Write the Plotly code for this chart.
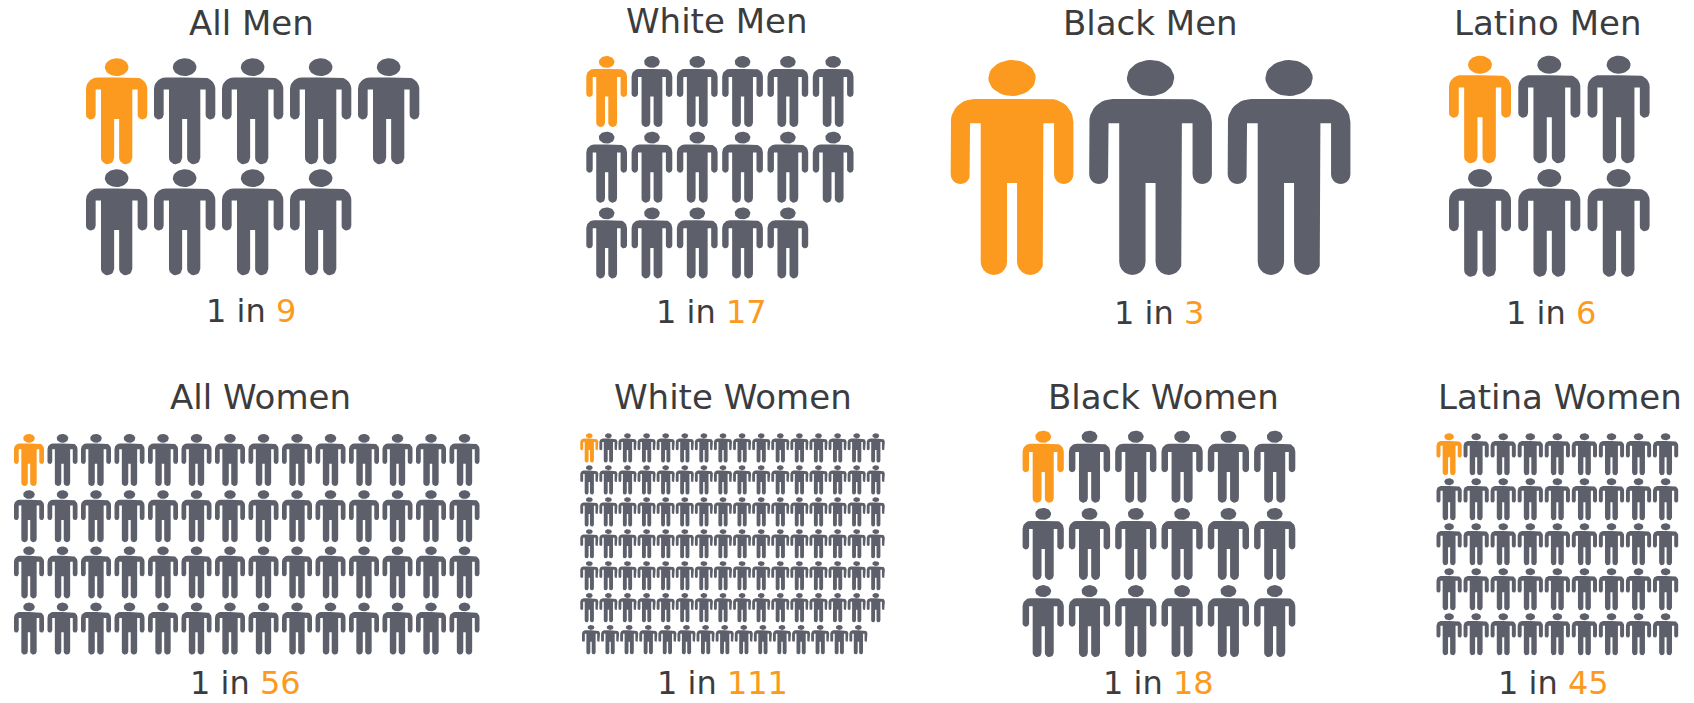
import math
import plotly.graph_objects as go

# ---- data -------------------------------------------------------------
GROUPS = ["All Men", "White Men", "Black Men", "Latino Men",
          "All Women", "White Women", "Black Women", "Latina Women"]
ONE_IN = [9, 17, 3, 6, 56, 111, 18, 45]
COLUMNS = [5, 6, 3, 3, 14, 16, 6, 9]

# ---- layout of each pictogram (px on a 1694 x 703 canvas) ---------------
LEFT = [86, 586.3, 950.7, 1449, 14, 580.3, 1022.6, 1436.5]
TOP = [58.3, 56, 60, 55.7, 434, 433.3, 430.7, 433.3]
ICON_W = [61.3, 40.7, 122.7, 62, 30, 18, 41.2, 25.2]
ICON_H = [106, 71, 215, 107.6, 52, 29.3, 72, 42]
STEP_X = [68, 45.3, 138.5, 69.3, 33.5, 19.1, 46.3, 27.06]
STEP_Y = [111, 75.7, 1, 113.4, 56.2, 31.95, 77.2, 45]
LAST_ROW_DX = [0, 0, 0, 0, 0, 1.7, 0, 0]
TITLE_XY = [(251.7, 23), (716, 20.7), (1150.7, 23), (1547.7, 23),
            (260, 397), (733, 397), (1163, 397), (1559.5, 397)]
NOTE_XY = [(250.7, 311), (711, 312), (1159, 313), (1550.7, 313),
           (245, 683), (722, 683), (1158.5, 683), (1553, 683)]

ORANGE = "#FB9A1E"
GREY = "#5D5F6B"
TEXT = "#3C3C3E"
FONT = "DejaVu Sans ExtraLight, DejaVu Sans"
TITLE_SIZE = 34
NOTE_SIZE = 32

# ---- icon outline, in template units -------------------------------------
T_W, T_H = 368.0, 645.0


def arc(cx, cy, rx, ry, a0, a1, n=10):
    return [(cx + rx * math.cos(math.radians(a0 + (a1 - a0) * i / n)),
             cy + ry * math.sin(math.radians(a0 + (a1 - a0) * i / n)))
            for i in range(n + 1)]


right = [(0, 117)]
right += arc(114, 187, 70, 70, -90, 0)
right += arc(155, 343, 29, 29, 0, 180)
right += [(126, 190), (94, 190)]
right += arc(54.5, 605.5, 39.5, 39.5, 0, 180)
right += [(15, 369), (0, 369)]
BODY = right + [(-x, y) for x, y in reversed(right)][1:]
HEAD = arc(0, 54, 71, 54, 0, 360, 36)


def icon_xy(cx, top, w, h):
    sx, sy = w / T_W, h / T_H
    xs, ys = [], []
    for part in (HEAD, BODY):
        xs += [cx + px * sx for px, _ in part] + [None]
        ys += [top + py * sy for _, py in part] + [None]
    return xs, ys


fig = go.Figure()
for p, name in enumerate(GROUPS):
    orange_x, orange_y, grey_x, grey_y = [], [], [], []
    n_rows = math.ceil(ONE_IN[p] / COLUMNS[p])
    for k in range(ONE_IN[p]):
        row, col = divmod(k, COLUMNS[p])
        dx = LAST_ROW_DX[p] if row == n_rows - 1 else 0
        cx = LEFT[p] + dx + col * STEP_X[p] + ICON_W[p] / 2
        top = TOP[p] + row * STEP_Y[p]
        xs, ys = icon_xy(cx, top, ICON_W[p], ICON_H[p])
        if k == 0:
            orange_x += xs
            orange_y += ys
        else:
            grey_x += xs
            grey_y += ys
    for xs, ys, colour, label in ((grey_x, grey_y, GREY, "others"),
                                  (orange_x, orange_y, ORANGE, "one")):
        fig.add_trace(go.Scatter(x=xs, y=ys, mode="lines", fill="toself",
                                 fillcolor=colour, line=dict(width=0, color=colour),
                                 name=f"{name}: {label}", hoverinfo="name",
                                 showlegend=False))
    fig.add_annotation(x=TITLE_XY[p][0], y=TITLE_XY[p][1], text=name, showarrow=False,
                       font=dict(family=FONT, size=TITLE_SIZE, color=TEXT))
    fig.add_annotation(x=NOTE_XY[p][0], y=NOTE_XY[p][1],
                       text=f'1 in <span style="color:{ORANGE}">{ONE_IN[p]}</span>',
                       showarrow=False,
                       font=dict(family=FONT, size=NOTE_SIZE, color=TEXT))

fig.update_layout(width=1694, height=703, margin=dict(l=0, r=0, t=0, b=0),
                  paper_bgcolor="white", plot_bgcolor="white", showlegend=False,
                  xaxis=dict(range=[0, 1694], visible=False, fixedrange=True),
                  yaxis=dict(range=[703, 0], visible=False, fixedrange=True))

fig.write_html("out.html", config={"displayModeBar": False},
               post_script="document.body.style.margin='0';document.body.style.overflow='hidden';")
